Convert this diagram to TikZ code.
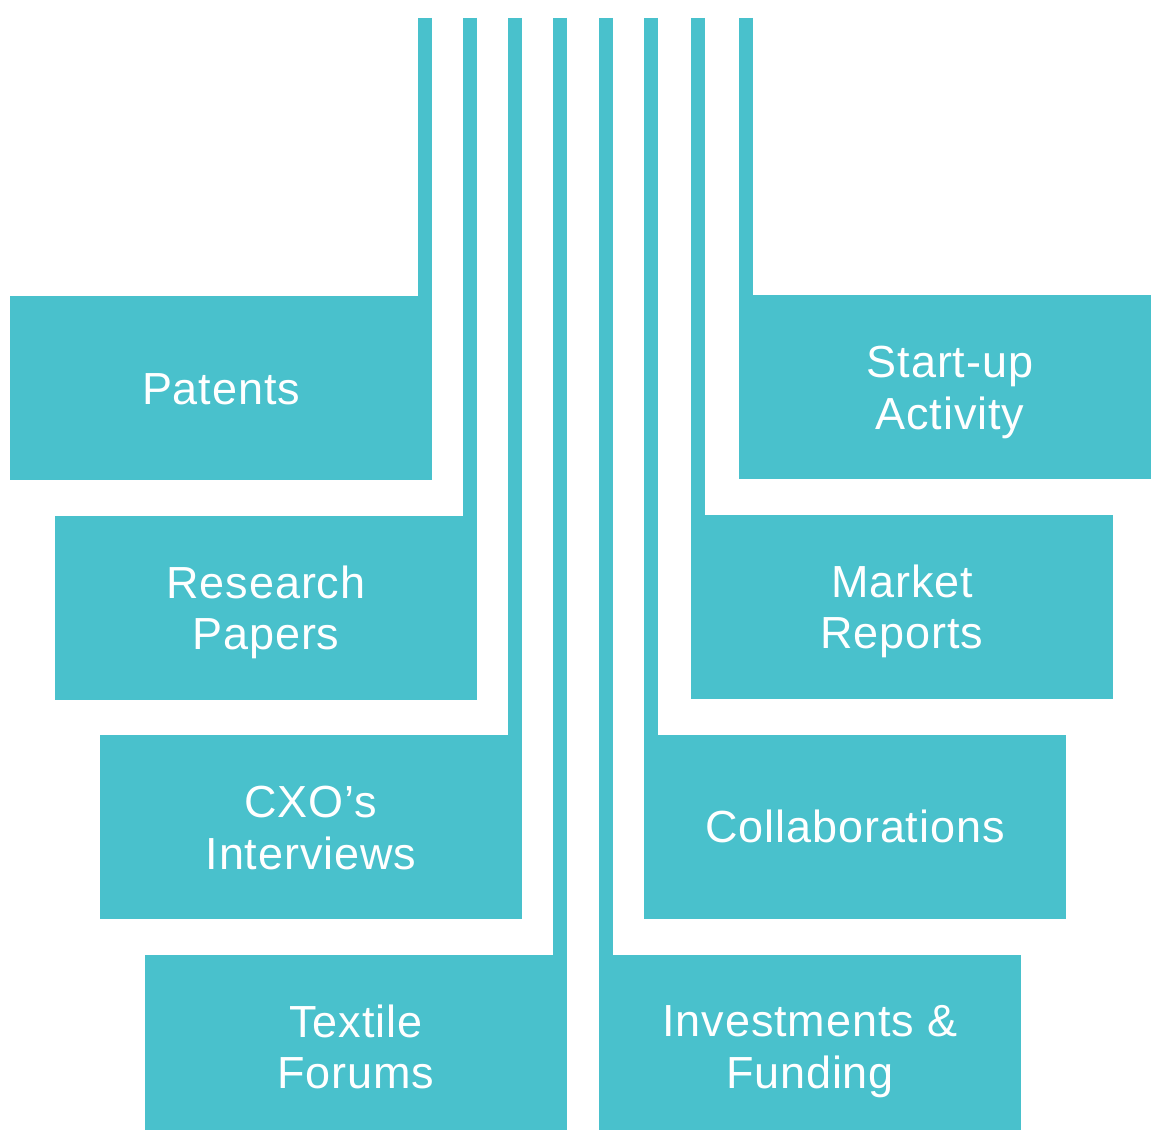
\documentclass[tikz,border=0pt]{standalone}
\usepackage{fontspec}
\usepackage{tikz}
\newfontfamily\boxfont[LetterSpace=2]{Liberation Sans}
\definecolor{tealbox}{HTML}{49C1CC}
\newcommand\linestrut{\rule[-5.55pt]{0pt}{29.42pt}}
\begin{document}
\begin{tikzpicture}[scale=0.2]
\tikzstyle{every node}+=[inner sep=0pt]
\tikzstyle{source}=[fill=tealbox, minimum width=8.44cm, minimum height=3.68cm, align=center, text=white, font=\boxfont\fontsize{25.6}{29.42}\selectfont]
\tikzstyle{bar}=[tealbox, line width=0.28cm]
\useasboundingbox (0,0) rectangle (115.1,-113);
\node [source] (patents) at (22.1,-38.83) {\linestrut Patents};
\node [source] (research) at (26.6,-60.8) {\linestrut Research\\\linestrut Papers};
\node [source] (cxo) at (31.1,-82.73) {\linestrut CXO’s\\\linestrut Interviews};
\node [source] (textile) at (35.6,-104.7) {\linestrut Textile\\\linestrut Forums};
\node [source] (startup) at (95,-38.73) {\linestrut Start-up\\\linestrut Activity};
\node [source] (market) at (90.2,-60.7) {\linestrut Market\\\linestrut Reports};
\node [source] (collab) at (85.5,-82.65) {\linestrut Collaborations};
\node [source] (invest) at (81,-104.65) {\linestrut Investments \&\\\linestrut Funding};
\coordinate (t1) at (42.5,-1.8);
\coordinate (t2) at (47,-1.8);
\coordinate (t3) at (51.5,-1.8);
\coordinate (t4) at (56,-1.8);
\coordinate (t5) at (60.6,-1.8);
\coordinate (t6) at (65.1,-1.8);
\coordinate (t7) at (69.8,-1.8);
\coordinate (t8) at (74.6,-1.8);
\draw [bar] (t1) -- (t1 |- patents.center);
\draw [bar] (t2) -- (t2 |- research.center);
\draw [bar] (t3) -- (t3 |- cxo.center);
\draw [bar] (t4) -- (t4 |- textile.center);
\draw [bar] (t5) -- (t5 |- invest.center);
\draw [bar] (t6) -- (t6 |- collab.center);
\draw [bar] (t7) -- (t7 |- market.center);
\draw [bar] (t8) -- (t8 |- startup.center);
\end{tikzpicture}
\end{document}
